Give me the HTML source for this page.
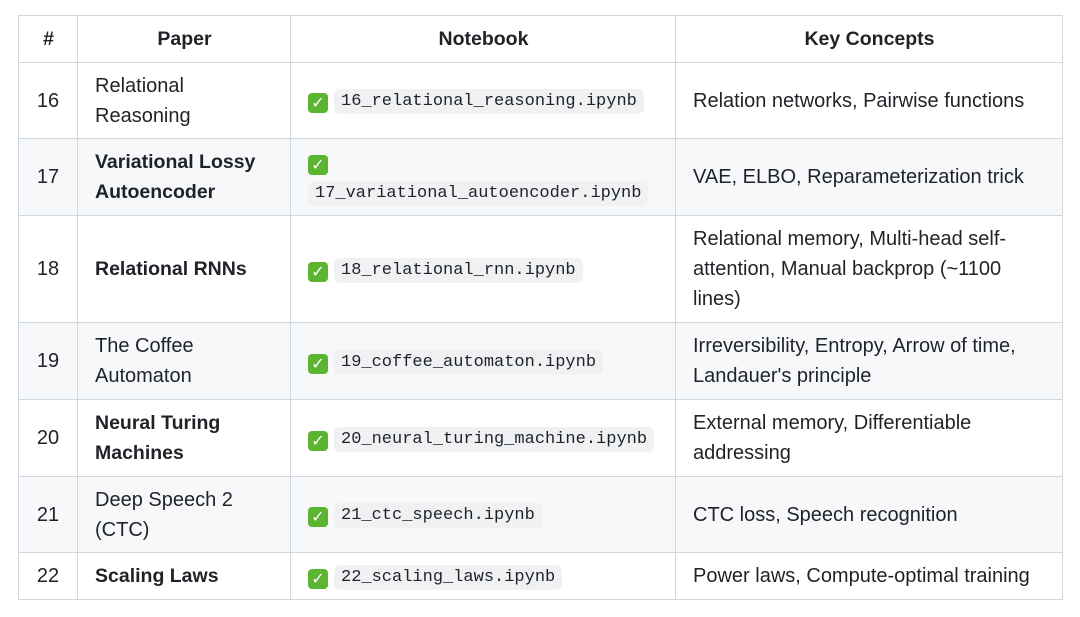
<!DOCTYPE html>
<html><head><meta charset="utf-8"><style>
html,body{margin:0;padding:0;background:#fff;width:1080px;height:617px;overflow:hidden}
table{position:absolute;left:18px;top:15px;border-collapse:collapse;font-family:"Liberation Sans",sans-serif;font-size:20px;color:#1f2328;table-layout:fixed;width:1044px}
td,th{border:1px solid #d0d7de;padding:0 16px 0 17px;line-height:30px;vertical-align:middle;text-align:left}
th{font-weight:bold;text-align:center;height:46px;font-size:19.5px}
td.n{text-align:center;padding:0}
tr.g td{background:#f6f8fa}
b{font-weight:bold;font-size:19.5px}
code{font-family:"Liberation Mono",monospace;font-size:17px;background:#eff1f3;border-radius:6px;padding:3px 7px;color:#1f2328}
.ck{display:inline-block;width:20px;height:20px;background:#5cb531;border-radius:4px;color:#fff;font-size:16px;line-height:20px;text-align:center;vertical-align:-3px;margin-right:6px;font-weight:bold;font-family:"DejaVu Sans",sans-serif}
</style></head><body>
<table>
<colgroup><col style="width:59px"><col style="width:213px"><col style="width:385px"><col style="width:387px"></colgroup>
<tr><th>#</th><th>Paper</th><th>Notebook</th><th>Key Concepts</th></tr>
<tr style="height:76px"><td class="n">16</td><td>Relational<br>Reasoning</td><td><span class="ck">✓</span><code>16_relational_reasoning.ipynb</code></td><td>Relation networks, Pairwise functions</td></tr>
<tr class="g" style="height:77px"><td class="n">17</td><td><b>Variational Lossy<br>Autoencoder</b></td><td><span class="ck">✓</span><br><code>17_variational_autoencoder.ipynb</code></td><td>VAE, ELBO, Reparameterization trick</td></tr>
<tr style="height:107px"><td class="n">18</td><td><b>Relational RNNs</b></td><td><span class="ck">✓</span><code>18_relational_rnn.ipynb</code></td><td>Relational memory, Multi-head self-<br>attention, Manual backprop (~1100<br>lines)</td></tr>
<tr class="g" style="height:77px"><td class="n">19</td><td>The Coffee<br>Automaton</td><td><span class="ck">✓</span><code>19_coffee_automaton.ipynb</code></td><td>Irreversibility, Entropy, Arrow of time,<br>Landauer's principle</td></tr>
<tr style="height:77px"><td class="n">20</td><td><b>Neural Turing<br>Machines</b></td><td><span class="ck">✓</span><code>20_neural_turing_machine.ipynb</code></td><td>External memory, Differentiable<br>addressing</td></tr>
<tr class="g" style="height:76px"><td class="n">21</td><td>Deep Speech 2<br>(CTC)</td><td><span class="ck">✓</span><code>21_ctc_speech.ipynb</code></td><td>CTC loss, Speech recognition</td></tr>
<tr style="height:47px"><td class="n">22</td><td><b>Scaling Laws</b></td><td><span class="ck">✓</span><code>22_scaling_laws.ipynb</code></td><td>Power laws, Compute-optimal training</td></tr>
</table>
</body></html>
